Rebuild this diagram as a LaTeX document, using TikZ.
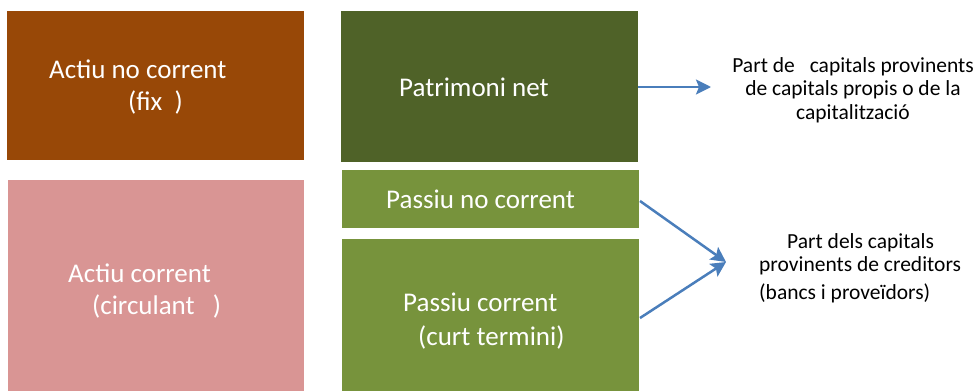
\documentclass[tikz,border=0pt]{standalone}
\usepackage{fontspec}
\setmainfont{Carlito}
\usetikzlibrary{arrows.meta}

\definecolor{fixbrown}{RGB}{152,72,7}
\definecolor{curpink}{RGB}{217,149,148}
\definecolor{netgreen}{RGB}{79,98,40}
\definecolor{debtgreen}{RGB}{119,147,60}
\definecolor{linkblue}{RGB}{74,126,187}

\tikzset{
  block/.style={inner sep=0pt, outer sep=0pt, minimum width=297pt},
  boxtext/.style={text=white, font=\fontsize{27}{32}\selectfont, align=left, inner sep=0pt, anchor=base west},
  sidetext/.style={font=\fontsize{21.5}{23.5}\selectfont, inner sep=0pt},
  link/.style={draw=linkblue, line width=2.5pt, -{Stealth[length=15pt,width=15pt,inset=3pt]}}
}

\begin{document}
\begin{tikzpicture}[x=1pt,y=1pt,yscale=-1,xscale=1]
        \useasboundingbox (0,0) rectangle (974,391);

        %Rect: actiu no corrent
        \node (anc) [block, fill=fixbrown, minimum height=149pt] at (155.5,85.5) {};
        %Rect: actiu corrent
        \node (ac) [block, fill=curpink, minimum width=296pt, minimum height=211pt] at (156,285.5) {};
        %Rect: patrimoni net
        \node (pn) [block, fill=netgreen, minimum height=151pt] at (489.5,86.5) {};
        %Rect: passiu no corrent
        \node (pnc) [block, fill=debtgreen, minimum height=58pt] at (490.5,199) {};
        %Rect: passiu corrent
        \node (pc) [block, fill=debtgreen, minimum height=152pt] at (490.5,315) {};

        % Text Node (placed at the baseline of its last line)
        \node (tanc) [boxtext] at (49,110) {Actiu no corrent\\\hspace*{79pt}(fix\ \ )};
        % Text Node
        \node (tac) [boxtext] at (68,314) {Actiu corrent\\\hspace*{24pt}(circulant\ \ \ )};
        % Text Node
        \node (tpn) [boxtext] at (399,96) {Patrimoni net};
        % Text Node
        \node (tpnc) [boxtext] at (386,208) {Passiu no corrent};
        % Text Node
        \node (tpc) [boxtext, font=\fontsize{27}{34}\selectfont] at (403,345) {Passiu corrent\\\hspace*{15pt}(curt termini)};

        % Text Node
        \node (propis) [sidetext, align=center, anchor=base] at (853,119) {Part de\hspace{15pt}capitals provinents\\de capitals propis o de la\\capitalització};
        % Text Node
        \node (creditors) [sidetext, align=left, anchor=base west] at (759,299) {\hspace*{28pt}Part dels capitals\\provinents de creditors\\[4pt](bancs i proveïdors)};

        %Straight Lines
        \coordinate (tipa) at (711,87);
        \coordinate (tipb) at (726,262);
        \draw [link] (pn.east |- 0,87) -- (tipa);
        \draw [link] ([xshift=1pt]pnc.east |- 0,201) -- (tipb);
        \draw [link] ([xshift=1pt]pc.east |- 0,318) -- (tipb);
    \end{tikzpicture}
\end{document}
